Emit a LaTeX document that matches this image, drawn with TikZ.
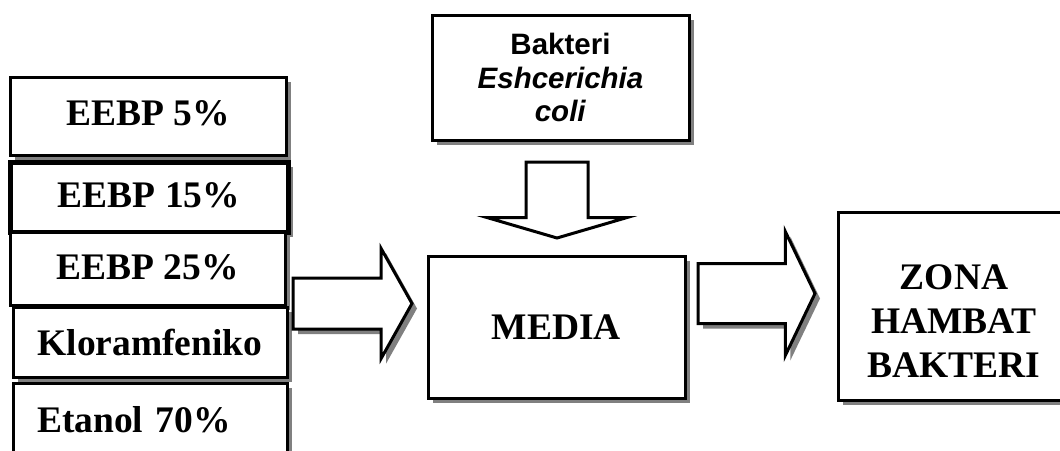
\documentclass[tikz,border=0pt]{standalone}
\usepackage{fontspec}
\setmainfont{Liberation Serif}
\newfontfamily\arialfont{Liberation Sans}
\usetikzlibrary{shapes.arrows,shadows}

\tikzset{
  grayshadow/.style={drop shadow={shadow xshift=5pt, shadow yshift=-5pt, fill=black!50, opacity=1}},
  box/.style={draw, line width=3pt, fill=white, inner sep=0pt, outer sep=0pt, align=center,
    font=\fontsize{37.5}{44}\selectfont\bfseries, grayshadow},
  blockarrow/.style={single arrow, draw, line width=3pt, fill=white,
    outer sep=0pt, anchor=tail}
}

\begin{document}
\begin{tikzpicture}[x=1pt, y=-1pt]
\useasboundingbox (0,0) rectangle (1060,450);
% left column
\node[box, minimum width=276, minimum height=78, text depth=5pt] (eebpA) at (148,116) {EEBP 5\%};
\node[box, line width=5pt, minimum width=278, minimum height=70, text depth=3pt] (eebpB) at (149,197) {EEBP 15\%};
\node[box, minimum width=275, minimum height=73, text depth=3pt] (eebpC) at (147.5,268.5) {EEBP 25\%};
\node[box, minimum width=274, minimum height=70] (klor) at (150,342) {Kloramfeniko};
\node[box, minimum width=274, minimum height=74, text width=226, align=left] (etanol) at (150,420) {Etanol 70\%};
% middle
\node[box, minimum width=257, minimum height=125, font=\arialfont\bfseries\fontsize{29.5}{33.5}\selectfont] (bakteri) at (560.5,77.5) {Bakteri\\\textit{Eshcerichia}\\\textit{coli}};
\node[box, minimum width=257, minimum height=142] (media) at (556.5,327) {MEDIA};
% right
\node[box, minimum width=232, minimum height=188, text height=144pt] (zona) at (954,306) {ZONA\\HAMBAT\\BAKTERI};
% block arrows
\node[blockarrow, grayshadow, minimum height=119, inner xsep=0pt, inner ysep=24pt,
  single arrow head extend=29.5pt, single arrow tip angle=121.4] (arrowIn) at (293,303.5) {};
\node[blockarrow, shape border rotate=270, minimum height=76, inner xsep=29.5pt, inner ysep=0pt,
  single arrow head extend=39pt, single arrow tip angle=147.4] (arrowDown) at (557,162) {};
\node[blockarrow, grayshadow, minimum height=117, inner xsep=0pt, inner ysep=28.5pt,
  single arrow head extend=32pt, single arrow tip angle=128.8] (arrowOut) at (698,293.5) {};
\end{tikzpicture}
\end{document}
